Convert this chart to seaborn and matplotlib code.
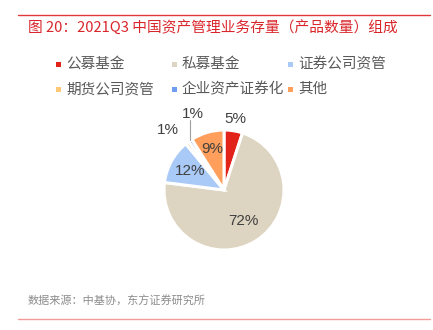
import numpy as np
import matplotlib
matplotlib.use("Agg")
import matplotlib.pyplot as plt
import seaborn as sns
from matplotlib.patches import Rectangle
from matplotlib.lines import Line2D

sns.set_theme(style="white")
plt.rcParams['font.family'] = ['Noto Sans CJK SC', 'DejaVu Sans']

# ---- data ----
categories = ["公募基金", "私募基金", "证券公司资管", "期货公司资管", "企业资产证券化", "其他"]
shares = [5, 72, 12, 1, 1, 9]
pct_labels = ["5%", "72%", "12%", "1%", "1%", "9%"]
title_text = "图 20：2021Q3 中国资产管理业务存量（产品数量）组成"
source_text = "数据来源：中基协，东方证券研究所"

# ---- styles ----
colors = ["#E2231A", "#DDD5C1", "#A9C9F7", "#FFC878", "#6E9EEE", "#FF9F5B"]
legend_order = [0, 1, 2, 3, 4, 5]

W, H = 433, 330
fig = plt.figure(figsize=(W / 100, H / 100), dpi=100)
fig.patch.set_facecolor("white")

def fx(px):
    return px / W

def fy(py):
    return 1 - py / H

# title and rules
fig.add_artist(Line2D([fx(18), fx(430)], [fy(15), fy(15)], color="#E0383B", lw=1.0))
fig.text(fx(28), fy(27), title_text, color="#D9262B", fontsize=10.6,
         va="center", ha="left")
fig.add_artist(Line2D([fx(18), fx(430)], [fy(319), fy(319)], color="#F19C98", lw=1.0))
fig.text(fx(28), fy(301), source_text, color="#8C8C8C", fontsize=8,
         va="center", ha="left")

# legend (manual grid)
col_x = [58, 174, 290]
row_y = [64, 89]
for k, idx in enumerate(legend_order):
    r, c = divmod(k, 3)
    mx, my = col_x[c], row_y[r]
    fig.add_artist(Rectangle((fx(mx - 2.5), fy(my + 2.5)), fx(5), 5 / H,
                             facecolor=colors[idx], edgecolor="none",
                             transform=fig.transFigure))
    fig.text(fx(mx + 8), fy(my), categories[idx], color="#595959",
             fontsize=10.5, va="center", ha="left")

# pie
cx, cy, R = 224, 190, 60
ax = fig.add_axes([fx(cx - 2 * R), fy(cy + 2 * R), 4 * R / W, 4 * R / H])
wedges, _ = ax.pie(shares, colors=colors, startangle=90, counterclock=False,
                   radius=1.0,
                   wedgeprops=dict(edgecolor="white", linewidth=2.2))
ax.set_xlim(-2, 2)
ax.set_ylim(-2, 2)
ax.set_aspect("auto")
ax.axis("off")

label_r = [1.2, 0.62, 0.65, None, None, 0.72]
lab_font = dict(family=['Liberation Sans', 'Noto Sans CJK SC'], fontsize=11,
                color="#404040", ha="center", va="center")
for i, w in enumerate(wedges):
    mid = np.deg2rad((w.theta1 + w.theta2) / 2)
    ex, ey = np.cos(mid), np.sin(mid)
    if label_r[i] is not None:
        ax.text(label_r[i] * ex, label_r[i] * ey, pct_labels[i], **lab_font)

# small slices with outside labels
ax.text(-0.93, 1.0, pct_labels[3], **lab_font)
w4 = wedges[4]
m4 = np.deg2rad((w4.theta1 + w4.theta2) / 2)
x4 = np.cos(m4)
ax.plot([x4, x4], [np.sin(m4), 1.17], color="#A0A0A0", lw=0.8)
ax.text(x4 + 0.05, 1.27, pct_labels[4], **lab_font)

fig.savefig("out.png", dpi=100, facecolor="white")
